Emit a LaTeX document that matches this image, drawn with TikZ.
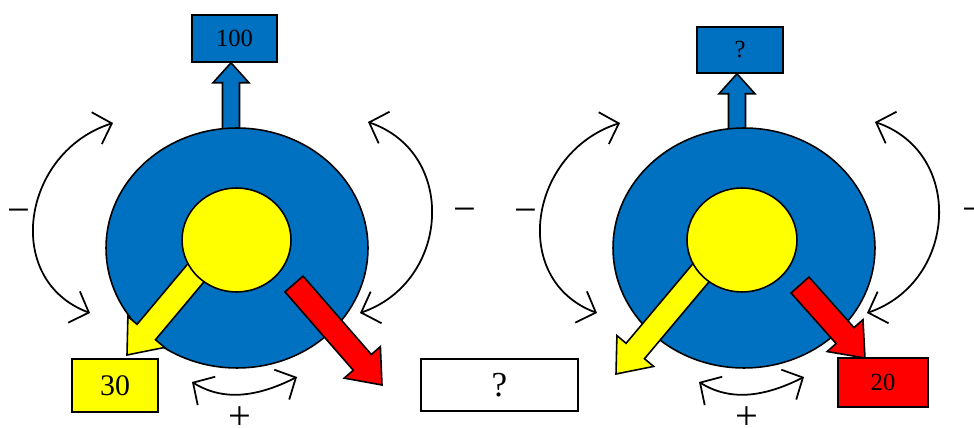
\documentclass[tikz,border=0pt]{standalone}
\usepackage{fontspec}
\setmainfont{Liberation Serif}
\usetikzlibrary{shapes.geometric,arrows.meta,calc}
\definecolor{discblue}{RGB}{0,112,192}
\definecolor{coreyellow}{RGB}{255,255,0}
\definecolor{outred}{RGB}{255,0,0}

\newcommand{\blockarr}[6]{%
  \coordinate (hb) at ($(#3)!#6!(#2)$);
  \draw[fill=#1] ($(#2)!#4!90:(#3)$) -- ($(hb)!#4!-90:(#2)$) -- ($(hb)!#5!-90:(#2)$) -- (#3)
    -- ($(hb)!#5!90:(#2)$) -- ($(hb)!#4!90:(#2)$) -- ($(#2)!#4!-90:(#3)$) -- cycle;}

\begin{document}
\begin{tikzpicture}[x=0.02cm,y=-0.02cm,line width=0.9pt]
				\tikzstyle{disc}=[ellipse,draw,inner sep=0pt]
				\tikzstyle{valbox}=[rectangle,draw,inner sep=0pt,font=\fontsize{14}{14}\selectfont]
				\tikzstyle{sign}=[inner sep=0pt,font=\fontsize{23}{23}\selectfont]
				\tikzstyle{turn}=[line width=1pt,{Straight Barb[length=9pt,width=19pt]}-{Straight Barb[length=9pt,width=19pt]}]
				\useasboundingbox (0,0) rectangle (974,428);

				\node[valbox,fill=discblue,minimum width=1.70cm,minimum height=0.94cm] (outL) at (234.5,38.5) {100};
				\node[valbox,fill=coreyellow,minimum width=1.72cm,minimum height=1.06cm,font=\fontsize{17}{17}\selectfont] (yelL) at (115,385.5) {30};
				\node[valbox,fill=white,minimum width=3.14cm,minimum height=1.04cm,font=\fontsize{20}{20}\selectfont] (redL) at (499.5,385) {?};
				\coordinate (upL) at (231,140);
				\coordinate (upLtip) at (upL |- outL.south);
				\blockarr{discblue}{upL}{upLtip}{0.17cm}{0.36cm}{0.4cm}
				\node[disc,fill=discblue,minimum width=5.24cm,minimum height=4.8cm] (bigL) at (237,248) {};
				\coordinate (rL1) at (294,284);
				\coordinate (rL2) at (382,385);
				\blockarr{outred}{rL1}{rL2}{0.24cm}{0.48cm}{0.6cm}
				\coordinate (yL1) at (205,262);
				\coordinate (yL2) at (127,355);
				\blockarr{coreyellow}{yL1}{yL2}{0.24cm}{0.48cm}{0.6cm}
				\node[disc,fill=coreyellow,minimum width=2.18cm,minimum height=2.08cm] (coreL) at (236.5,240) {};
				\coordinate (aL1) at (113,123);
				\coordinate (aL2) at (90,313);
				\coordinate (aL3) at (368,122);
				\coordinate (aL4) at (360,313);
				\coordinate (aL5) at (192,382);
				\coordinate (aL6) at (297,377);
				\draw[turn] (aL1) .. controls (22,152) and (2,280) .. (aL2);
				\draw[turn] (aL3) .. controls (458,153) and (450,282) .. (aL4);
				\draw[turn] (aL5) .. controls (226,403) and (261,395) .. (aL6);
				\node[sign] (mL1) at (19,216) {−};
				\node[sign] (mL2) at (465,215) {−};
				\node[sign] (pL) at (240,418) {+};

				\node[valbox,fill=discblue,minimum width=1.72cm,minimum height=0.92cm] (outR) at (740,50) {?};
				\node[valbox,fill=outred,minimum width=1.80cm,minimum height=0.98cm] (redR) at (883,382.5) {20};
				\coordinate (upR) at (737,140);
				\coordinate (upRtip) at (upR |- outR.south);
				\blockarr{discblue}{upR}{upRtip}{0.17cm}{0.36cm}{0.4cm}
				\node[disc,fill=discblue,minimum width=5.24cm,minimum height=4.8cm] (bigR) at (744,248) {};
				\coordinate (rR1) at (800,285);
				\coordinate (rR2) at (865,358);
				\blockarr{outred}{rR1}{rR2}{0.24cm}{0.48cm}{0.6cm}
				\coordinate (yR1) at (710,262);
				\coordinate (yR2) at (616,374);
				\blockarr{coreyellow}{yR1}{yR2}{0.24cm}{0.48cm}{0.6cm}
				\node[disc,fill=coreyellow,minimum width=2.20cm,minimum height=2.08cm] (coreR) at (742,240) {};
				\coordinate (aR1) at (620,123);
				\coordinate (aR2) at (597,313);
				\coordinate (aR3) at (875,122);
				\coordinate (aR4) at (867,313);
				\coordinate (aR5) at (699,382);
				\coordinate (aR6) at (804,377);
				\draw[turn] (aR1) .. controls (529,152) and (509,280) .. (aR2);
				\draw[turn] (aR3) .. controls (965,153) and (957,282) .. (aR4);
				\draw[turn] (aR5) .. controls (733,403) and (768,395) .. (aR6);
				\node[sign] (mR1) at (526,216) {−};
				\node[sign] (mR2) at (974,215) {−};
				\node[sign] (pR) at (747,418) {+};
\end{tikzpicture}
\end{document}
